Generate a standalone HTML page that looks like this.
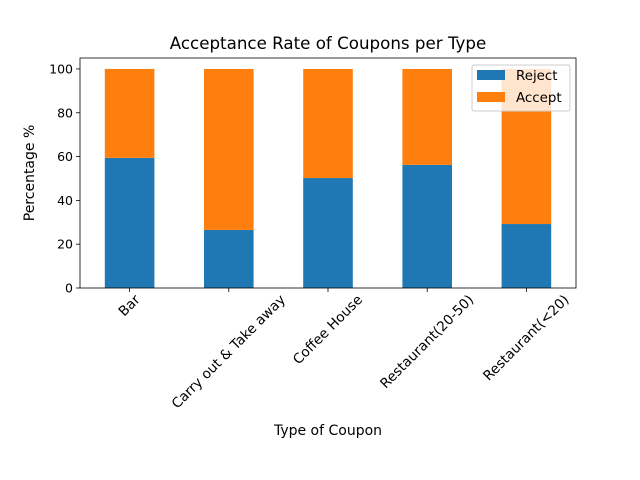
<!DOCTYPE html>
<html><head><meta charset="utf-8"><style>
body{margin:0;background:#fff;}
svg{display:block;font-family:"DejaVu Sans","Liberation Sans",sans-serif;}
</style></head><body>
<svg id="chart" width="640" height="480"></svg>
<script>
const categories=["Bar","Carry out & Take away","Coffee House","Restaurant(20-50)","Restaurant(<20)"];
const rejectVals=[59.4,26.5,50.2,56.2,29.2];
const yTicks=[0,20,40,60,80,100];
const NS="http://www.w3.org/2000/svg";
const svg=document.getElementById('chart');
const L=80,R=576,T=58,B=288,YMAX=105;
const y=v=>B-(v/YMAX)*(B-T);
const step=(R-L)/categories.length;
const xc=i=>L+step*(i+0.5);
function mk(tag,attrs,text){const e=document.createElementNS(NS,tag);for(const k in attrs)e.setAttribute(k,attrs[k]);if(text!==undefined)e.textContent=text;svg.appendChild(e);return e;}
categories.forEach((c,i)=>{
  const w=step*0.5,x=xc(i)-w/2,r=rejectVals[i];
  const b1=mk('rect',{x:x,y:y(r),width:w,height:B-y(r),fill:'#1f77b4'});
  
  
  const b2=mk('rect',{x:x,y:y(100),width:w,height:y(r)-y(100),fill:'#ff7f0e'});
  
  
  const tk=mk('line',{x1:xc(i),x2:xc(i),y1:B,y2:B+4,stroke:'#000','stroke-width':0.8});
  
  
  const t=mk('text',{x:0,y:0,'font-size':13.7,'text-anchor':'middle','dominant-baseline':'central'},c);
  
  
  const len=t.getComputedTextLength();
  const ext=(len+13)*0.7071;
  const cx=xc(i),cy=B+5+ext/2;
  t.setAttribute('x',cx);t.setAttribute('y',cy);
  t.setAttribute('transform',`rotate(-45 ${cx} ${cy})`);
});
yTicks.forEach(v=>{
  const tk=mk('line',{x1:L-4,x2:L,y1:y(v),y2:y(v),stroke:'#000','stroke-width':0.8});
  
  
  const t=mk('text',{x:L-7,y:y(v)+4.5,'font-size':12.5,'text-anchor':'end'},v);
  
  
});
const fr=mk('rect',{x:L,y:T,width:R-L,height:B-T,fill:'none',stroke:'#000','stroke-width':0.8});


</script>
<svg width="640" height="480" style="position:absolute;left:0;top:0">
<text x="328" y="49" font-size="16.7" text-anchor="middle">Acceptance Rate of Coupons per Type</text>
<text x="328" y="435" font-size="14" text-anchor="middle">Type of Coupon</text>
<text x="34" y="173" font-size="14" text-anchor="middle" transform="rotate(-90 34 173)">Percentage %</text>
<g>
<rect x="472" y="65" width="98" height="46" fill="#fff" fill-opacity="0.8" stroke="#ccc" rx="2"/>
<rect x="477" y="70" width="28" height="10" fill="#1f77b4"/>
<text x="516" y="80" font-size="13.4">Reject</text>
<rect x="477" y="92" width="28" height="10" fill="#ff7f0e"/>
<text x="516" y="102" font-size="13.4">Accept</text>
</g>
</svg>
</body></html>
